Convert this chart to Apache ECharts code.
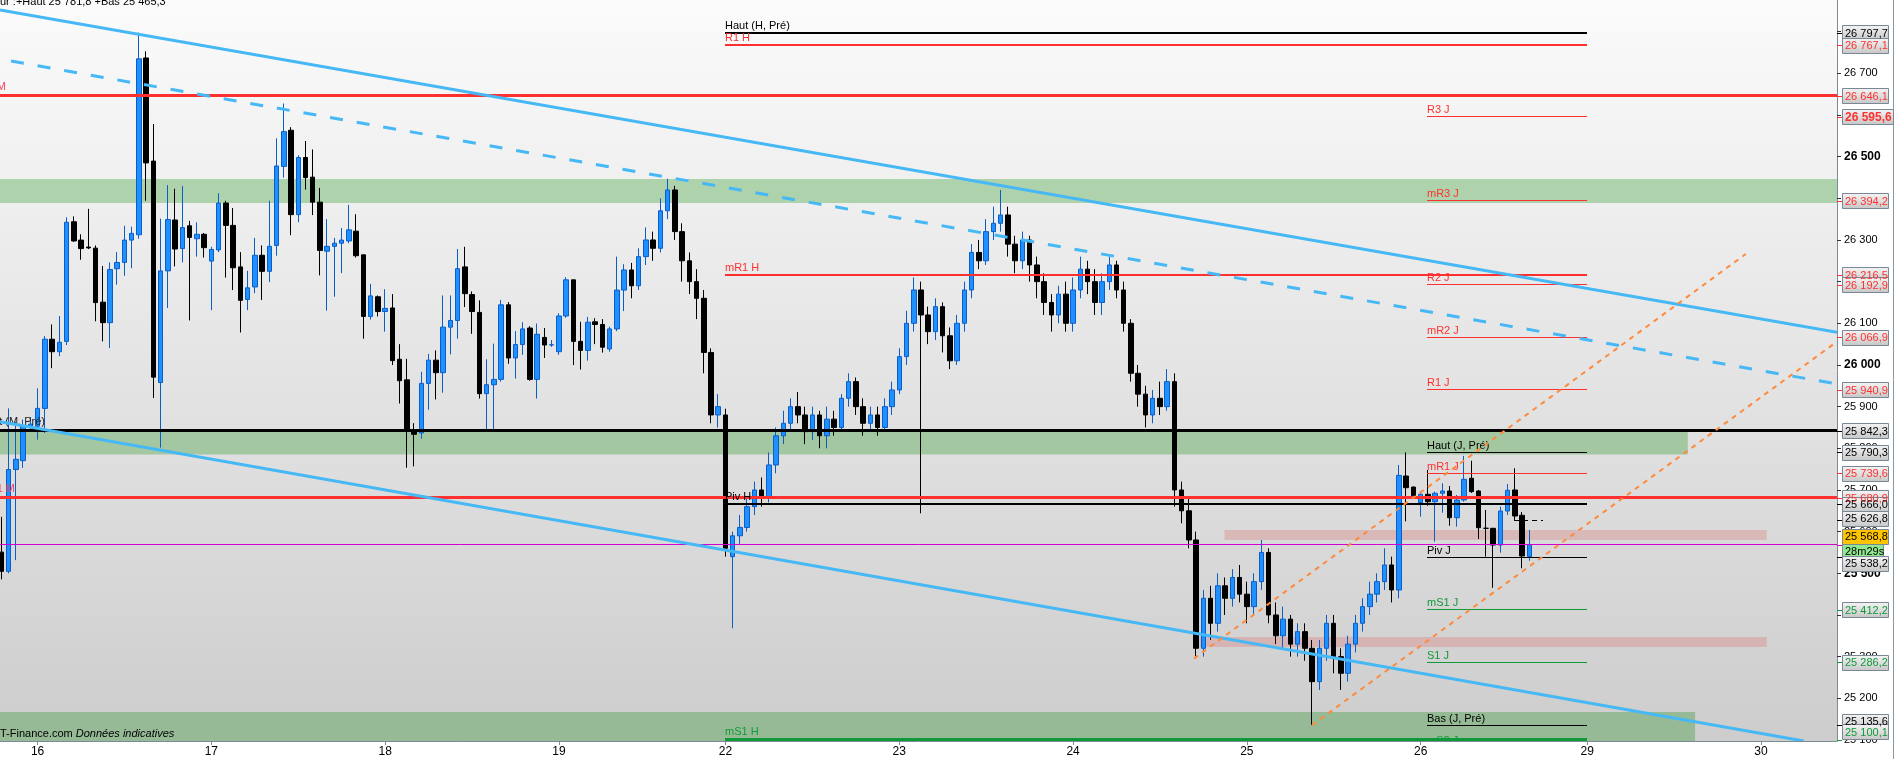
<!DOCTYPE html>
<html><head><meta charset="utf-8">
<script src="https://cdn.jsdelivr.net/npm/echarts@6/dist/echarts.min.js"></script>
<style>html,body{margin:0;padding:0;background:#fff;overflow:hidden}#c{width:1895px;height:759px}</style>
</head><body><div id="c"></div>
<script>
// ---------- DATA ----------
const FIRST_U = -5; // slot index of first candle (day 16 starts at slot 0)
// [open, close, low, high]
const candles = [
[25550.8,25504.7,25485.5,25635.4],[25504.7,25749.0,25500.0,25895.8],[25749.0,25773.6,25531.5,25863.6],[25770.4,25852.9,25753.0,25869.0],[25853.0,25858.0,25845.0,25875.0],
[25852.9,25895.8,25820.8,25944.0],[25895.8,26061.8,25836.8,26069.3],[26061.8,26031.8,25992.2,26097.2],[26031.8,26054.4,26021.0,26117.5],[26056.5,26342.5,26047.9,26354.3],
[26343.6,26297.6,26295.4,26356.5],[26299.7,26279.3,26252.5,26313.6],[26283.0,26281.0,26278.0,26374.7],[26280.4,26149.7,26104.7,26286.9],[26150.8,26101.5,26056.5,26237.6],
[26101.5,26229.0,26040.4,26246.1],[26231.0,26246.0,26192.6,26270.8],[26246.1,26299.7,26214.0,26334.0],[26299.7,26315.8,26232.2,26331.8],[26312.5,26734.7,26302.9,26797.7],
[26736.8,26485.0,26394.0,26752.9],[26489.3,25970.8,25920.4,26578.3],[25957.9,26225.8,25801.5,26351.1],[26225.8,26349.0,26136.8,26431.5],[26347.9,26278.3,26236.5,26422.9],
[26279.3,26329.7,26246.1,26429.3],[26334.0,26306.1,26106.8,26345.8],[26302.9,26313.6,26260.0,26342.5],[26313.6,26281.5,26257.9,26316.8],[26249.3,26277.2,26131.5,26283.6],
[26276.1,26388.6,26270.8,26412.2],[26388.6,26335.0,26209.7,26394.0],[26335.0,26233.3,26179.7,26376.8],[26235.4,26155.1,26077.9,26270.8],[26157.2,26185.1,26131.5,26225.8],
[26187.2,26263.3,26172.2,26305.0],[26263.3,26224.7,26156.1,26286.9],[26224.7,26284.7,26199.0,26394.0],[26286.9,26477.6,26262.2,26544.0],[26476.5,26560.0,26449.7,26627.5],
[26563.3,26360.8,26311.5,26570.8],[26360.8,26497.9,26342.5,26503.3],[26497.9,26449.7,26420.8,26537.5],[26450.8,26390.8,26359.7,26517.2],[26390.8,26275.0,26215.0,26425.0],
[26273.0,26284.7,26130.4,26350.0],[26284.7,26292.2,26163.6,26305.0],[26292.2,26299.7,26220.4,26328.6],[26297.6,26324.3,26292.2,26384.3],[26321.1,26262.2,26257.9,26361.8],
[26264.3,26116.5,26062.9,26264.3],[26116.5,26165.8,26108.9,26194.7],[26163.6,26128.3,26116.5,26166.8],[26128.3,26135.8,26080.0,26181.8],[26136.8,26010.4,25999.7,26170.0],
[26013.6,25962.2,25907.5,26050.0],[25964.3,25842.2,25753.3,26014.7],[25842.2,25833.6,25756.5,25860.4],[25836.8,25955.8,25822.9,25983.6],[25955.8,26011.5,25892.6,26026.5],
[26011.5,25981.5,25917.2,26035.0],[25981.5,26090.8,25933.3,26166.8],[26090.8,26106.8,26025.4,26166.8],[26106.8,26231.1,26062.9,26278.3],[26235.4,26171.1,26139.0,26283.6],
[26169.0,26128.3,26074.7,26176.5],[26126.1,25931.1,25919.4,26155.1],[25931.1,25952.6,25842.2,26013.6],[25952.6,25965.4,25842.2,26051.2],[25965.4,26144.3,25960.0,26156.1],
[26144.3,26016.8,26002.9,26150.8],[26016.8,26049.0,25967.5,26081.1],[26049.0,26086.5,26024.3,26102.6],[26088.6,25965.4,25962.2,26093.0],[25965.4,26073.6,25919.4,26099.4],
[26066.1,26047.9,26016.8,26088.6],[26047.9,26048.5,26043.6,26059.7],[26031.8,26117.5,26024.3,26124.0],[26117.5,26204.3,26113.3,26210.8],[26204.3,26056.5,25999.7,26204.3],
[26056.5,26035.0,25989.0,26103.6],[26035.0,26102.6,26010.4,26115.4],[26103.6,26097.2,26050.0,26112.2],[26097.2,26042.6,26029.7,26110.0],[26038.3,26086.5,26031.8,26091.8],
[26086.5,26179.7,26081.1,26260.0],[26179.7,26228.0,26129.3,26241.8],
[26228,26190,26160,26245],[26190,26260,26180,26280],[26260,26300,26240,26330],[26300,26280,26250,26320],[26280,26370,26270,26400],
[26370,26420,26350,26447],[26420,26320,26300,26430],[26320,26250,26200,26340],[26250,26200,26170,26270],[26200,26160,26110,26230],
[26160,26030,25980,26180],[26030,25880,25860,26040],[25880,25900,25850,25930],[25880,25560,25540,25895],[25540,25590,25368,25600],
[25590,25610,25570,25640],[25610,25660,25600,25680],[25660,25700,25640,25720],[25700,25680,25660,25730],[25680,25760,25670,25790],
[25760,25830,25740,25850],[25830,25860,25810,25890],[25860,25900,25840,25920],[25900,25880,25860,25935],[25880,25840,25810,25900],
[25840,25880,25820,25900],[25880,25830,25800,25890],[25830,25870,25800,25900],[25870,25850,25830,25890],[25850,25920,25840,25930],
[25920,25960,25900,25980],[25960,25900,25880,25970],[25900,25860,25830,25920],[25860,25880,25840,25900],[25880,25850,25830,25900],
[25850,25900,25840,25920],[25900,25940,25880,25960],[25940,26020,25930,26040],[26020,26100,26000,26130],[26100,26180,26080,26210],
[26180,26120,25644,26200],[26120,26080,26050,26140],[26080,26140,26060,26160],[26140,26070,26030,26150],[26070,26010,25990,26090],
[26010,26100,26000,26120],[26100,26180,26080,26200],[26180,26270,26160,26290],[26270,26250,26230,26300],[26250,26320,26240,26350],
[26320,26340,26300,26380],[26340,26360,26320,26420],[26360,26290,26260,26380],[26290,26250,26220,26310],[26250,26300,26230,26320],
[26300,26240,26200,26310],[26240,26200,26160,26260],[26200,26150,26120,26220],[26150,26120,26080,26170],[26120,26170,26100,26190],
[26170,26100,26080,26200],[26100,26180,26080,26210],[26180,26230,26160,26260],[26230,26200,26170,26250],[26200,26150,26120,26230],
[26150,26200,26120,26220],[26200,26240,26180,26260],[26240,26180,26160,26250],[26180,26100,26080,26200],[26100,25980,25960,26110],
[25980,25930,25900,26000],[25930,25880,25850,25950],[25880,25920,25860,25940],[25920,25900,25880,25960],[25900,25960,25890,25990],
[25960,25700,25660,25980],[25700,25650,25620,25720],[25650,25580,25560,25680],[25580,25320,25300,25600],[25320,25440,25300,25460],
[25440,25380,25340,25470],[25380,25470,25360,25500],[25470,25440,25400,25490],[25440,25490,25420,25510],[25490,25450,25430,25520],
[25450,25420,25380,25480],[25420,25480,25400,25500],[25480,25550,25460,25580],[25550,25400,25380,25560],[25400,25350,25330,25430],
[25350,25390,25320,25420],[25390,25330,25300,25400],[25330,25360,25300,25380],[25360,25320,25290,25380],[25320,25240,25135.6,25340],
[25240,25320,25220,25340],[25320,25380,25290,25400],[25380,25300,25260,25400],[25300,25260,25220,25320],[25260,25330,25240,25350],
[25330,25380,25310,25400],[25380,25420,25360,25440],[25420,25450,25400,25480],[25450,25480,25430,25500],[25480,25520,25460,25560],
[25520,25460,25430,25540],[25460,25735,25440,25760],
[25733.5,25705.4,25624.6,25790.3],[25707.0,25686.2,25680.0,25708.0],[25669.4,25689.6,25636.0,25696.0],[25689.6,25671.8,25662.2,25747.9],[25671.8,25692.0,25575.8,25696.0],
[25692.0,25697.5,25645.4,25716.0],[25697.5,25633.4,25614.2,25709.5],[25633.4,25675.9,25612.0,25688.0],[25675.9,25725.6,25672.0,25781.8],[25728.0,25696.0,25693.0,25770.2],
[25697.5,25609.4,25582.3,25700.0],[25608.0,25608.0,25540.0,25652.0],[25608.0,25567.9,25465.3,25608.0],[25567.9,25649.5,25549.5,25660.0],[25649.5,25699.2,25640.0,25714.3],
[25700.0,25637.5,25628.0,25752.0],[25639.2,25541.5,25512.0,25647.0],[25540.0,25568.8,25530.0,25604.0]
];
const dayTicks = [0,24,48,72,95,119,143,167,191,214,238];
const dayLabels = ['16','17','18','19','22','23','24','25','26','29','30'];
const yTickValues = [25100,25200,25300,25400,25500,25600,25700,25800,25900,26000,26100,26200,26300,26400,26500,26600,26700,26800];
const xMin = -5.19, xMax = 248.5, yMin = 25097.5, yMax = 26875.9;

const monthlyNames = ['R2 M','Haut (M, Pré)','R1 M'];
const monthlyValues = [26646.1, 25842.3, 25680.9];
const weeklyNames = ['Haut (H, Pré)','R1 H','mR1 H','Piv H','mS1 H'];
const weeklyValues = [26797.7, 26767.1, 26216.5, 25666.0, 25100.1];
const weeklySpan = [95, 214];
const dailyNames = ['R3 J','mR3 J','R2 J','mR2 J','R1 J','Haut (J, Pré)','mR1 J','Piv J','mS1 J','S1 J','Bas (J, Pré)','mS2 J'];
const dailyValues = [26595.6, 26394.2, 26192.9, 26066.9, 25940.9, 25790.3, 25739.6, 25538.2, 25412.2, 25286.2, 25135.6, 25083.0];
const dailySpan = [191.9, 214];
const lastPrice = 25568.8;
const timerText = '28m29s';
const openMarker = [203.9, 207.9, 25626.8];

const zoneX1 = [xMin, xMin, xMin, 163.9, 160.5];
const zoneX2 = [xMax, 227.9, 228.9, 238.8, 238.8];
const zoneLow = [26388.7, 25785.3, yMin, 25580, 25323];
const zoneHigh = [26446.6, 25842.3, 25167, 25604, 25347];

// trend lines [u1, v1, u2, v2]
const trendTop = [-5.19, 26851.7, 248.5, 26078.4];
const trendDashed = [-3.67, 26729.3, 248.5, 25954.3];
const trendBottom = [-5.19, 25863.8, 243.9, 25097.5];
const channelUpper = [159.7, 25295.3, 235.9, 26266.3];
const channelLower = [176.0, 25135.6, 248.5, 26056.0];

const axisBoxValues = [26797.7,26767.1,26646.1,26595.6,26394.2,26216.5,26192.9,26066.9,25940.9,25842.3,25790.3,25739.6,25680.9,25666.0,25626.8,25568.8,25538.2,25412.2,25286.2,25135.6,25100.1];
const axisBoxKinds  = ['k','r','r','rb','r','r','r','r','r','k','k','r','r','k','k','p','k','g','g','k','g'];
const headerText = 'ur :+Haut 25 781,8 +Bas 25 465,3';

// ---------- STYLE ----------
const RED = '#ff3030', GREEN = '#0f9a3a', BLACK = '#000000';
const FONT = '"Liberation Sans", Arial, sans-serif';
const zoneColors = ['#aed3ac','#a3c8a1','#96ba96','#d9b9b8','#d5b4b3'];
const monthlyLabelRight = [6, 45, 15];
const boxNudge = {25568.8: -8.5, 25538.2: 6, 25135.6: -4, 25100.1: -8, 25626.8: -2};

function levelColor(name){
  if (/^(Haut|Bas|Piv)/.test(name)) return BLACK;
  if (/^m?R/.test(name)) return RED;
  return GREEN;
}
function fmtNum(v){
  const s = v.toFixed(1).split('.');
  return s[0].replace(/\B(?=(\d{3})+(?!\d))/g, ' ') + ',' + s[1];
}
function fmtTick(v){ return String(Math.round(v)).replace(/\B(?=(\d{3})+(?!\d))/g, ' '); }
function crisp(v, w){ return (Math.round(w) % 2 === 1) ? Math.round(v - 0.5) + 0.5 : Math.round(v); }

const candleData = candles.map((c, i) => [FIRST_U + i, c[0], c[1], c[2], c[3]]);

const chart = echarts.init(document.getElementById('c'), null, {renderer: 'canvas'});

function levelSeries(names, values, span, widthFn, zIdx){
  return {
    type: 'custom', z: zIdx, clip: true, silent: true,
    data: values.map(v => [span[0], span[1], v]),
    renderItem: function(params, api){
      const i = params.dataIndex;
      const p1 = api.coord([api.value(0), api.value(2)]);
      const p2 = api.coord([api.value(1), api.value(2)]);
      const col = levelColor(names[i]);
      const w = widthFn(names[i]);
      const y = crisp(p1[1], w);
      return {type: 'group', children: [
        {type: 'line', shape: {x1: Math.round(p1[0]), y1: y, x2: Math.round(p2[0]), y2: y}, style: {stroke: col, lineWidth: w}},
        {type: 'text', x: Math.round(p1[0]), y: y - w/2 - 1, style: {text: names[i], fill: col, font: '11px ' + FONT, align: 'left', verticalAlign: 'bottom'}}
      ]};
    }
  };
}

function trendSeries(lines, colors, widths, dashes){
  return {
    type: 'custom', z: 6, clip: true, silent: true,
    data: lines,
    renderItem: function(params, api){
      const i = params.dataIndex;
      const a = api.coord([api.value(0), api.value(1)]);
      const b = api.coord([api.value(2), api.value(3)]);
      return {type: 'line', shape: {x1: a[0], y1: a[1], x2: b[0], y2: b[1]},
        style: {stroke: colors[i], lineWidth: widths[i], lineDash: dashes[i], lineCap: 'butt'}};
    }
  };
}

const option = {
  animation: false,
  backgroundColor: '#ffffff',
  grid: {left: 0, right: 58, top: 0, bottom: 18, show: true, borderWidth: 0,
    backgroundColor: new echarts.graphic.LinearGradient(0, 0, 0, 1, [{offset: 0, color: '#fbfbfb'}, {offset: 1, color: '#cdcdcd'}])},
  xAxis: {
    type: 'value', min: xMin, max: xMax,
    axisLine: {show: true, onZero: false, lineStyle: {color: '#7d8b98', width: 1}},
    axisTick: {show: true, customValues: dayTicks, length: 4, lineStyle: {color: '#7d8b98'}},
    axisLabel: {show: true, customValues: dayTicks, margin: 5, color: '#000', fontSize: 12, fontFamily: FONT,
      formatter: v => { const k = dayTicks.indexOf(Math.round(v)); return k >= 0 ? dayLabels[k] : ''; }},
    splitLine: {show: false}
  },
  yAxis: {
    type: 'value', position: 'right', min: yMin, max: yMax, scale: true,
    axisLine: {show: true, onZero: false, lineStyle: {color: '#7d8b98', width: 1}},
    axisTick: {show: true, customValues: yTickValues, length: 4, lineStyle: {color: '#333'}},
    axisLabel: {show: true, customValues: yTickValues, margin: 7, color: '#000', fontSize: 11, fontFamily: FONT,
      formatter: v => (Math.round(v) % 500 === 0) ? '{b|' + fmtTick(v) + '}' : fmtTick(v),
      rich: {b: {fontWeight: 'bold', fontSize: 12, fontFamily: FONT, color: '#000'}}},
    splitLine: {show: false}
  },
  series: [
    { // zones
      type: 'custom', z: 1, clip: true, silent: true,
      data: zoneX1.map((x, i) => [x, zoneX2[i], zoneLow[i], zoneHigh[i]]),
      renderItem: function(params, api){
        const a = api.coord([api.value(0), api.value(3)]);
        const b = api.coord([api.value(1), api.value(2)]);
        return {type: 'rect', shape: {x: a[0], y: a[1], width: b[0] - a[0], height: b[1] - a[1]},
          style: {fill: zoneColors[params.dataIndex]}};
      }
    },
    {
      type: 'candlestick', z: 3, clip: true, silent: true,
      data: candleData, encode: {x: 0, y: [1, 2, 3, 4]},
      barWidth: 5,
      itemStyle: {color: '#1e90ff', color0: '#000000', borderColor: '#0a5ec8', borderColor0: '#000000', borderWidth: 1}
    },
    { // full-width monthly lines
      type: 'custom', z: 4, clip: false, silent: true,
      data: monthlyValues.map(v => [xMin, xMax, v]),
      renderItem: function(params, api){
        const i = params.dataIndex;
        const p1 = api.coord([api.value(0), api.value(2)]);
        const p2 = api.coord([api.value(1), api.value(2)]);
        const col = levelColor(monthlyNames[i]);
        const y = crisp(p1[1], 3);
        return {type: 'group', children: [
          {type: 'line', shape: {x1: p1[0], y1: y, x2: p2[0], y2: y}, style: {stroke: col, lineWidth: 3}},
          {type: 'text', x: p1[0] + monthlyLabelRight[i], y: y - 3, style: {text: monthlyNames[i], fill: col === BLACK ? '#222' : '#ff4060', font: '11px ' + FONT, align: 'right', verticalAlign: 'bottom'}}
        ]};
      }
    },
    { // last price line
      type: 'custom', z: 4, clip: true, silent: true,
      data: [[xMin, xMax, lastPrice]],
      renderItem: function(params, api){
        const p1 = api.coord([api.value(0), api.value(2)]);
        const p2 = api.coord([api.value(1), api.value(2)]);
        const y = crisp(p1[1], 1);
        return {type: 'line', shape: {x1: p1[0], y1: y, x2: p2[0], y2: y}, style: {stroke: '#d000d0', lineWidth: 1}};
      }
    },
    levelSeries(weeklyNames, weeklyValues, weeklySpan, n => n === 'mS1 H' ? 3 : 2, 5),
    levelSeries(dailyNames, dailyValues, dailySpan, n => 1, 5),
    { // open marker dashed
      type: 'custom', z: 5, clip: true, silent: true,
      data: [openMarker],
      renderItem: function(params, api){
        const a = api.coord([api.value(0), api.value(2)]);
        const b = api.coord([api.value(1), api.value(2)]);
        const y = crisp(a[1], 1);
        return {type: 'line', shape: {x1: a[0], y1: y, x2: b[0], y2: y}, style: {stroke: '#000', lineWidth: 1, lineDash: [5, 4]}};
      }
    },
    trendSeries([trendTop, trendDashed, trendBottom, channelUpper, channelLower],
      ['#45b8f5', '#45b8f5', '#45b8f5', '#ff8a3d', '#ff8a3d'],
      [3, 3, 3, 2, 2],
      [null, [13, 14], null, [5, 5], [5, 5]])
  ]
};
chart.setOption(option);

// ---------- right-axis boxes & texts ----------
const gridRight = 1895 - 58;
const yPix = v => chart.convertToPixel({yAxisIndex: 0}, v);
const boxGrad = new echarts.graphic.LinearGradient(0, 0, 0, 1, [{offset: 0, color: '#f5f5f5'}, {offset: 1, color: '#c6c6c6'}]);
const graphics = [];
axisBoxValues.forEach((v, i) => {
  const kind = axisBoxKinds[i];
  const vy = yPix(v);
  const cy = vy + (boxNudge[v] || 0);
  const col = kind === 'r' || kind === 'rb' ? RED : kind === 'g' ? GREEN : BLACK;
  const bold = kind === 'rb';
  const w = bold ? 51 : 46, h = 15;
  graphics.push({type: 'line', z: 20, shape: {x1: gridRight, y1: Math.round(vy) + 0.5, x2: gridRight + 5, y2: Math.round(vy) + 0.5}, style: {stroke: kind === 'p' ? '#d000d0' : col, lineWidth: 1}});
  graphics.push({type: 'rect', z: 21, shape: {x: gridRight + 5.5, y: Math.round(cy - h / 2) + 0.5, width: w, height: h},
    style: {fill: kind === 'p' ? '#ffc400' : boxGrad, stroke: '#7b8794', lineWidth: 1}});
  graphics.push({type: 'text', z: 22, x: gridRight + 8, y: Math.round(cy) + 1, style: {text: fmtNum(v), fill: kind === 'p' ? '#000' : col,
    font: (bold ? 'bold 12px ' : '11px ') + FONT, verticalAlign: 'middle', align: 'left'}});
  if (kind === 'p') {
    const ty = cy + 15;
    graphics.push({type: 'rect', z: 21, shape: {x: gridRight + 5.5, y: Math.round(ty - h / 2) + 0.5, width: 41, height: h},
      style: {fill: '#8fe98f', stroke: '#7b8794', lineWidth: 1}});
    graphics.push({type: 'text', z: 22, x: gridRight + 8, y: Math.round(ty) + 1, style: {text: timerText, fill: '#000', font: '11px ' + FONT, verticalAlign: 'middle', align: 'left'}});
  }
});
graphics.push({type: 'line', z: 20, shape: {x1: 1893.5, y1: 0, x2: 1893.5, y2: 759}, style: {stroke: '#8a96a2', lineWidth: 1}});
graphics.push({type: 'text', z: 30, x: 0, y: -4, style: {text: headerText, fill: '#000', font: '11px ' + FONT, verticalAlign: 'top', align: 'left'}});
graphics.push({type: 'text', z: 30, x: 0, y: 734, style: {text: '{n|T-Finance.com }{i|Données indicatives}', verticalAlign: 'middle', align: 'left',
  rich: {n: {fontSize: 11, fontFamily: FONT, fill: '#000'}, i: {fontSize: 11, fontFamily: FONT, fontStyle: 'italic', fill: '#000'}}}});
chart.setOption({graphic: graphics});
</script></body></html>
